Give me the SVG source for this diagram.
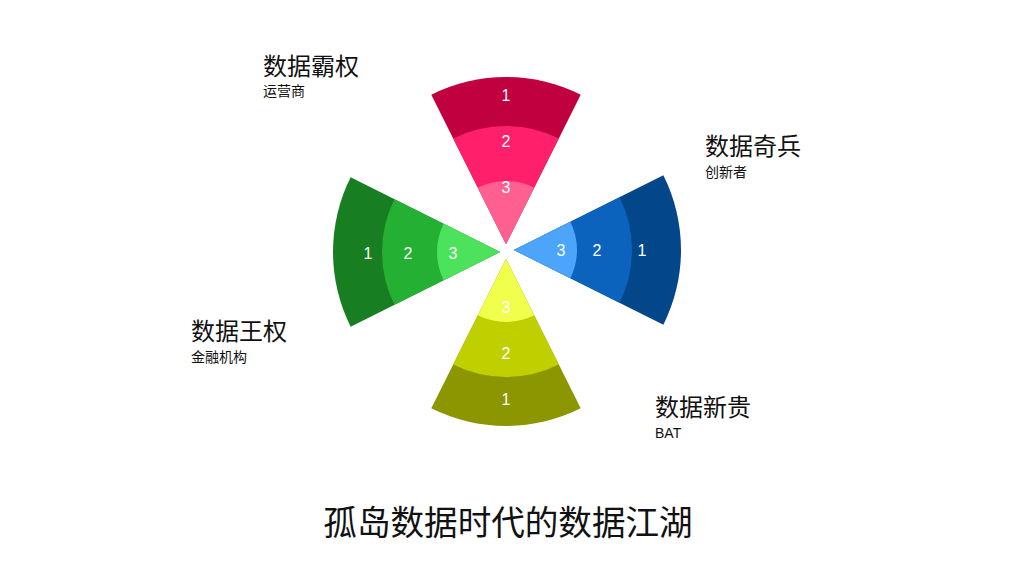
<svg xmlns="http://www.w3.org/2000/svg" width="1024" height="576" viewBox="0 0 1024 576">
<style>
.num{font-family:"Liberation Sans","Open Sans",sans-serif;font-size:16px;fill:#ffffff;text-anchor:middle}
.h{font-family:"Noto Sans CJK SC",sans-serif;font-size:24px;fill:#111111}
.s{font-family:"Noto Sans CJK SC",sans-serif;font-size:14px;fill:#111111}
.t{font-family:"Noto Sans CJK SC",sans-serif;font-size:33.6px;fill:#111111;text-anchor:middle}
</style>
<rect width="1024" height="576" fill="#ffffff"/>
<g id="sector-top">
<path d="M506,244 L431.32,94.63 A167,167 0 0 1 580.68,94.63 Z" fill="#C0003F"/>
<path d="M506,244 L453.23,138.46 A118,118 0 0 1 558.77,138.46 Z" fill="#FF1F6B"/>
<path d="M506,244 L477.83,187.65 A63,63 0 0 1 534.17,187.65 Z" fill="#FF5F91"/>
<text class="num" x="506" y="101">1</text>
<text class="num" x="506" y="147">2</text>
<text class="num" x="506" y="193">3</text>
</g>
<g id="sector-right">
<path d="M514,250 L663.37,175.32 A167,167 0 0 1 663.37,324.68 Z" fill="#034689"/>
<path d="M514,250 L619.54,197.23 A118,118 0 0 1 619.54,302.77 Z" fill="#0B63BE"/>
<path d="M514,250 L570.35,221.83 A63,63 0 0 1 570.35,278.17 Z" fill="#4CA4FB"/>
<text class="num" x="642" y="256">1</text>
<text class="num" x="597" y="256">2</text>
<text class="num" x="561" y="256">3</text>
</g>
<g id="sector-bottom">
<path d="M506,259 L580.68,408.37 A167,167 0 0 1 431.32,408.37 Z" fill="#8B9600"/>
<path d="M506,259 L558.77,364.54 A118,118 0 0 1 453.23,364.54 Z" fill="#BFCF00"/>
<path d="M506,259 L534.17,315.35 A63,63 0 0 1 477.83,315.35 Z" fill="#EFFF4C"/>
<text class="num" x="506" y="405">1</text>
<text class="num" x="506" y="359">2</text>
<text class="num" x="506" y="313">3</text>
</g>
<g id="sector-left">
<path d="M500,252 L350.63,326.68 A167,167 0 0 1 350.63,177.32 Z" fill="#177E21"/>
<path d="M500,252 L394.46,304.77 A118,118 0 0 1 394.46,199.23 Z" fill="#23B033"/>
<path d="M500,252 L443.65,280.17 A63,63 0 0 1 443.65,223.83 Z" fill="#4CE25C"/>
<text class="num" x="368" y="259">1</text>
<text class="num" x="408" y="259">2</text>
<text class="num" x="453" y="259">3</text>
</g>
<g id="label-top">
<text class="h" x="263" y="75">数据霸权</text>
<text class="s" x="263" y="96">运营商</text>
</g>
<g id="label-right">
<text class="h" x="705" y="155">数据奇兵</text>
<text class="s" x="705" y="177">创新者</text>
</g>
<g id="label-left">
<text class="h" x="191" y="340">数据王权</text>
<text class="s" x="191" y="362">金融机构</text>
</g>
<g id="label-bottom">
<text class="h" x="655" y="416">数据新贵</text>
<text class="s" x="655" y="438" style="font-family:'Liberation Sans',sans-serif">BAT</text>
</g>
<g id="connectors"/>
<g id="title">
<text class="t" x="508" y="535">孤岛数据时代的数据江湖</text>
</g>
</svg>
